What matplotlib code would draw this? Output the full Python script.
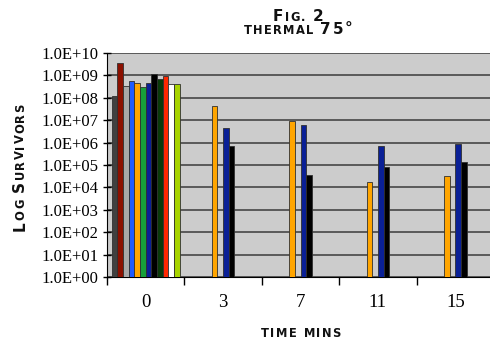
import numpy as np
import matplotlib
matplotlib.use("Agg")
import matplotlib.pyplot as plt
from matplotlib.ticker import FixedLocator, NullLocator
from matplotlib.font_manager import FontProperties

categories = ["0", "3", "7", "11", "15"]
series_colors = ["#404040", "#8B1000", "#A8A8A8", "#1F5BFF", "#FFA500", "#17A03A",
                 "#0A2096", "#000000", "#0A3A0A", "#FF2800", "#FFFFFF", "#A8D400"]
nan = np.nan
# values per series (12 series) across 5 time points
s0 = [1.2e8, nan, nan, nan, nan]
s1 = [3.5e9, nan, nan, nan, nan]
s2 = [3.2e8, nan, nan, nan, nan]
s3 = [5.6e8, nan, nan, nan, nan]
s4 = [4.8e8, 4.3e7, 9.0e6, 1.8e4, 3.3e4]
s5 = [3.0e8, nan, nan, nan, nan]
s6 = [4.4e8, 4.4e6, 6.0e6, 7.0e5, 8.3e5]
s7 = [1.1e9, 7.0e5, 3.5e4, 8.0e4, 1.35e5]
s8 = [6.7e8, nan, nan, nan, nan]
s9 = [9.0e8, nan, nan, nan, nan]
s10 = [4.3e8, nan, nan, nan, nan]
s11 = [4.3e8, nan, nan, nan, nan]
series = [s0, s1, s2, s3, s4, s5, s6, s7, s8, s9, s10, s11]
ytick_labels = ["1.0E+00", "1.0E+01", "1.0E+02", "1.0E+03", "1.0E+04", "1.0E+05",
                "1.0E+06", "1.0E+07", "1.0E+08", "1.0E+09", "1.0E+10"]

W, H = 490, 343
fig = plt.figure(figsize=(W / 100, H / 100), dpi=100)
fig.patch.set_facecolor("white")
ax = fig.add_axes([107 / W, (H - 277) / H, (494 - 107) / W, (277 - 53) / H])
ax.set_facecolor("#CCCCCC")

x = np.arange(len(categories))
n = len(series)
bw = 0.877 / n
for i, (vals, c) in enumerate(zip(series, series_colors)):
    off = (i - (n - 1) / 2) * bw
    v = np.array(vals, dtype=float)
    mask = ~np.isnan(v)
    ax.bar(x[mask] + off, v[mask], width=bw, bottom=1, color=c,
           edgecolor="#303030", linewidth=0.6, zorder=3)

ax.set_yscale("log")
ax.set_ylim(1, 1e10)
ax.set_xlim(-0.5, len(categories) - 0.5)
ax.yaxis.set_major_locator(FixedLocator([10.0 ** k for k in range(11)]))
ax.yaxis.set_minor_locator(NullLocator())
ax.set_yticklabels(ytick_labels, family="Liberation Serif", fontsize=12)
ax.grid(axis="y", color="#505050", linewidth=1.3, zorder=1)
ax.set_axisbelow(True)

ax.set_xticks(x)
ax.set_xticklabels(categories, family="Liberation Serif", fontsize=13.5)
ax.set_xticks(np.arange(-0.5, len(categories) - 0.5, 1.0), minor=True)
ax.tick_params(axis="x", which="major", length=0, pad=12)
ax.tick_params(axis="x", which="minor", length=6, width=1, direction="out", color="black")
ax.tick_params(axis="y", which="major", length=6, width=1, direction="inout", color="black", pad=3)

for s in ["top", "right"]:
    ax.spines[s].set_visible(False)
ax.spines["left"].set_color("black")
ax.spines["bottom"].set_color("black")


def small_caps(text, cx, cy, big=11.0, small=8.3, track=1.3, rotation=0):
    """Draw text in small caps centred at pixel (cx, cy from top)."""
    renderer = fig.canvas.get_renderer()
    pieces = []
    for ch in text:
        if ch == " ":
            pieces.append((" ", small, small * 100 / 72 * 0.4))
            continue
        size = big if (ch.isupper() or ch.isdigit() or ch == "°") else small
        prop = FontProperties(family="DejaVu Sans", weight="bold", size=size)
        w, h, d = renderer.get_text_width_height_descent(ch.upper(), prop, ismath=False)
        pieces.append((ch.upper(), size, w))
    total = sum(p[2] for p in pieces) + track * (len(pieces) - 1)
    cap_px = small * 100 / 72 * 0.73
    ang = np.deg2rad(rotation)
    ux, uy = np.cos(ang), np.sin(ang)
    nx, ny = -np.sin(ang), np.cos(ang)
    yup = H - cy
    sx = cx - ux * total / 2 - nx * cap_px / 2
    sy = yup - uy * total / 2 - ny * cap_px / 2
    pos = 0.0
    for ch, size, w in pieces:
        if ch != " ":
            fig.text((sx + ux * pos) / W, (sy + uy * pos) / H, ch, family="DejaVu Sans",
                     fontweight="bold", fontsize=size, rotation=rotation,
                     rotation_mode="anchor", ha="left", va="baseline", color="#111111")
        pos += w + track


small_caps("Fig. 2", 298, 17)
small_caps("thermal 75°", 298, 30)
small_caps("time mins", 301, 333)
small_caps("Log Survivors", 20, 167, rotation=90)

fig.savefig("out.png", dpi=100)
